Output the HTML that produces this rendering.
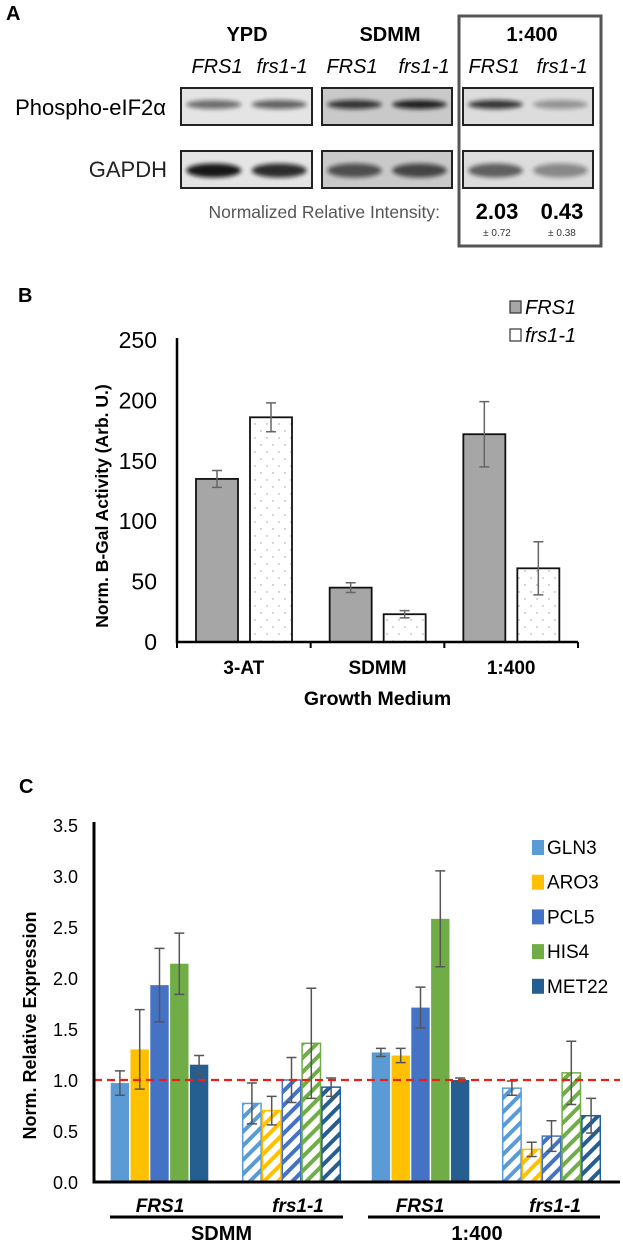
<!DOCTYPE html>
<html><head><meta charset="utf-8"><style>
body{margin:0;background:#fff;}
svg{display:block;font-family:"Liberation Sans",Arial,sans-serif;}
</style></head><body>
<svg id="fig" width="623" height="1248" viewBox="0 0 623 1248" xmlns="http://www.w3.org/2000/svg">
<defs>
<filter id="blur" x="-20%" y="-50%" width="140%" height="200%"><feGaussianBlur stdDeviation="2.2"/></filter>
<pattern id="dots" width="12" height="14" patternUnits="userSpaceOnUse"><rect width="12" height="14" fill="#fff"/><circle cx="3" cy="4" r="0.7" fill="#999"/><circle cx="9" cy="11" r="0.7" fill="#999"/></pattern>
</defs>
<!-- Panel A -->
<g>
<text x="6" y="20" font-size="20" font-weight="bold">A</text>
<rect x="459" y="16" width="142" height="230" fill="none" stroke="#555" stroke-width="3"/>
<g font-size="20" font-weight="bold" text-anchor="middle">
<text x="247" y="41">YPD</text>
<text x="390" y="41">SDMM</text>
<text x="532" y="41">1:400</text>
</g>
<g font-size="20" font-style="italic" text-anchor="middle">
<text x="217" y="73">FRS1</text><text x="282" y="73">frs1-1</text>
<text x="352" y="73">FRS1</text><text x="424" y="73">frs1-1</text>
<text x="494" y="73">FRS1</text><text x="562" y="73">frs1-1</text>
</g>
<text x="166" y="115" font-size="22" text-anchor="end">Phospho-eIF2α</text>
<text x="167" y="177" font-size="22" text-anchor="end" fill="#222">GAPDH</text>
<g id="blots"></g>
<text x="440" y="218" font-size="17.5" text-anchor="end" fill="#555">Normalized Relative Intensity:</text>
<text x="497" y="219" font-size="22" font-weight="bold" text-anchor="middle">2.03</text>
<text x="562" y="219" font-size="22" font-weight="bold" text-anchor="middle">0.43</text>
<text x="497" y="236" font-size="10" text-anchor="middle" fill="#333">± 0.72</text>
<text x="562" y="236" font-size="10" text-anchor="middle" fill="#333">± 0.38</text>
</g>
<!-- Panel B -->
<g id="panelB">
<text x="18" y="302" font-size="20" font-weight="bold">B</text>
</g>
<!-- Panel C -->
<g id="panelC">
<text x="19" y="793" font-size="20" font-weight="bold">C</text>
</g>
</svg>
<script>
// ---- Panel A blots (band intensities, 0-1) ----
const blotPhospho=[0.55,0.6,0.8,0.9,0.8,0.35];
const blotGapdh=[0.95,0.85,0.65,0.7,0.6,0.4];
const NS='http://www.w3.org/2000/svg';
function mk(tag,attrs,parent){const e=document.createElementNS(NS,tag);for(const k in attrs)e.setAttribute(k,attrs[k]);parent.appendChild(e);return e;}
const blots=document.getElementById('blots');
const boxes=[[181,312],[322,452],[463,593]];
const bgs=['#e4e4e4','#c9c9c9','#dcdcdc'];
[[88,125,blotPhospho,'phospho'],[151,188,blotGapdh,'gapdh']].forEach(([y0,y1,vals,nm])=>{
  boxes.forEach(([x0,x1],b)=>{
    const r=mk('rect',{x:x0,y:y0,width:x1-x0,height:y1-y0,fill:bgs[b],stroke:'#222','stroke-width':2},blots);
    
    
    for(let l=0;l<2;l++){
      const v=vals[b*2+l];const w=(x1-x0)/2;
      const band=mk('ellipse',{cx:x0+w*(l+0.5),cy:(y0+y1)/2+(nm==='gapdh'?1:-2),rx:w*0.42,ry:nm==='gapdh'?7:4.5,fill:'#111',opacity:v,filter:'url(#blur)'},blots);
      
      
    }
  });
});

// ---- Panel B ----
const bCats=['3-AT','SDMM','1:400'];
const bFRS1=[135,45,172];
const bFRS1Err=[7,4,27];
const bFrs11=[186,23,61];
const bFrs11Err=[12,3,22];
const bTicks=[0,50,100,150,200,250];
(function(){
  const g=document.getElementById('panelB');
  const X0=177,X1=578,Y0=642,Ytop=340,ymax=250;
  const y=v=>Y0-(v/ymax)*(Y0-Ytop);
  const gw=(X1-X0)/bCats.length;
  bTicks.forEach(t=>{const tx=mk('text',{x:157,y:y(t)+8,'font-size':23,'text-anchor':'end'},g);tx.textContent=t;
    
    });
  const yt=mk('text',{x:0,y:0,'font-size':17.5,'font-weight':'bold','text-anchor':'middle',transform:`translate(108,${(Y0+Ytop)/2+15}) rotate(-90)`},g);
  yt.textContent='Norm. B-Gal Activity (Arb. U.)';
  
  
  bCats.forEach((c,i)=>{
    const gx=X0+gw*i;
    [[bFRS1,bFRS1Err,'#a6a6a6',19,'frs1'],[bFrs11,bFrs11Err,'url(#dots)',73,'frs1-1']].forEach(([vals,errs,fill,off,nm])=>{
      const v=vals[i];
      const r=mk('rect',{x:gx+off,y:y(v),width:42,height:Y0-y(v),fill:fill,stroke:'#111','stroke-width':1.8},g);
      
      
      const cx=gx+off+21,e=errs[i];
      mk('path',{d:`M${cx} ${y(v+e)}V${y(v-e)}M${cx-5} ${y(v+e)}H${cx+5}M${cx-5} ${y(v-e)}H${cx+5}`,stroke:'#666','stroke-width':1.5,fill:'none'},g);
    });
    const lt=mk('text',{x:gx+gw/2,y:674,'font-size':19,'font-weight':'bold','text-anchor':'middle'},g);
    lt.textContent=c;
    
    
  });
  mk('path',{d:`M${X0} ${Ytop-2}V${Y0}H${X1}`,stroke:'#000','stroke-width':2.5,fill:'none'},g);
  for(let i=0;i<=3;i++) mk('line',{x1:X0+gw*i,x2:X0+gw*i,y1:Y0,y2:Y0+6,stroke:'#000','stroke-width':2},g);
  const xt=mk('text',{x:(X0+X1)/2,y:705,'font-size':19.5,'font-weight':'bold','text-anchor':'middle'},g);
  xt.textContent='Growth Medium';
  
  
  [['#a6a6a6','FRS1',307],['#fff','frs1-1',335]].forEach(([f,t,yy])=>{
    const s=mk('rect',{x:510,y:yy-6,width:11,height:12,fill:f,stroke:'#333','stroke-width':1.2},g);
    
    
    const tx=mk('text',{x:525,y:yy+7,'font-size':20,'font-style':'italic'},g);tx.textContent=t;
    
    
  });
})();

// ---- Panel C ----
const cGenes=['GLN3','ARO3','PCL5','HIS4','MET22'];
const cGroups=['FRS1','frs1-1','FRS1','frs1-1'];
const cFRS1SDMM=[0.97,1.30,1.93,2.14,1.15];
const cFRS1SDMMErr=[0.12,0.39,0.36,0.30,0.09];
const cFrsSDMM=[0.77,0.70,1.00,1.36,0.93];
const cFrsSDMMErr=[0.20,0.14,0.22,0.54,0.09];
const cFRS1Ratio=[1.27,1.24,1.71,2.58,1.00];
const cFRS1RatioErr=[0.04,0.07,0.20,0.47,0.02];
const cFrsRatio=[0.92,0.32,0.45,1.07,0.65];
const cFrsRatioErr=[0.07,0.07,0.15,0.31,0.17];
const cTicks=[0,0.5,1,1.5,2,2.5,3,3.5];
const cColors=['#5b9bd5','#ffc000','#4472c4','#70ad47','#255e91'];
(function(){
  const svg=document.getElementById('fig');
  const defs=svg.querySelector('defs');
  cColors.forEach((c,i)=>{
    const p=mk('pattern',{id:'hatch'+i,width:10,height:10,patternUnits:'userSpaceOnUse',patternTransform:'rotate(45)'},defs);
    mk('rect',{width:10,height:10,fill:'#fff'},p);
    mk('rect',{x:0,y:0,width:4,height:10,fill:c},p);
  });
  const g=document.getElementById('panelC');
  const X0=94,X1=620,Y0=1182,Ytop=825,ymax=3.5;
  const y=v=>Y0-(v/ymax)*(Y0-Ytop);
  cTicks.forEach(t=>{const tx=mk('text',{x:78,y:y(t)+7,'font-size':18,'text-anchor':'end'},g);tx.textContent=t.toFixed(1);
    
    });
  const yt=mk('text',{x:0,y:0,'font-size':18,'font-weight':'bold','text-anchor':'middle',transform:`translate(36,${(Y0+Ytop)/2+22}) rotate(-90)`},g);
  yt.textContent='Norm. Relative Expression';
  
  
  const series=[[cFRS1SDMM,cFRS1SDMMErr,false],[cFrsSDMM,cFrsSDMMErr,true],[cFRS1Ratio,cFRS1RatioErr,false],[cFrsRatio,cFrsRatioErr,true]];
  const starts=[110,242,371,502];const bw=19.8;
  const labelX=[160,298,420,555];
  series.forEach(([vals,errs,hatch],gi)=>{
    vals.forEach((v,k)=>{
      const bx=starts[gi]+k*bw;
      const r=mk('rect',{x:bx+0.7,y:y(v),width:bw-1.4,height:Y0-y(v),fill:hatch?'url(#hatch'+k+')':cColors[k],stroke:cColors[k],'stroke-width':hatch?1.5:0},g);
      
      
      const cx=bx+bw/2,e=errs[k];
      mk('path',{d:`M${cx} ${y(v+e)}V${y(v-e)}M${cx-5} ${y(v+e)}H${cx+5}M${cx-5} ${y(v-e)}H${cx+5}`,stroke:'#555','stroke-width':1.5,fill:'none'},g);
    });
    const lt=mk('text',{x:labelX[gi],y:1212,'font-size':19,'font-weight':'bold','font-style':'italic','text-anchor':'middle'},g);
    lt.textContent=cGroups[gi];
    
    
  });
  const rl=mk('line',{x1:X0,x2:X1,y1:y(1),y2:y(1),stroke:'#e8211b','stroke-width':2.2,'stroke-dasharray':'8,5'},g);
  
  
  mk('path',{d:`M${X0} ${Ytop-3}V${Y0}H${X1}`,stroke:'#000','stroke-width':3,fill:'none'},g);
  [[110,343,'SDMM'],[368,600,'1:400']].forEach(([a,b,t])=>{
    mk('line',{x1:a,x2:b,y1:1217,y2:1217,stroke:'#000','stroke-width':3},g);
    const tx=mk('text',{x:(a+b)/2-(t==='SDMM'?5:7),y:1240,'font-size':20,'font-weight':'bold','text-anchor':'middle'},g);tx.textContent=t;
    
    
  });
  cGenes.forEach((gn,k)=>{
    const yy=847+k*34.7;
    const s=mk('rect',{x:532,y:yy-7,width:12,height:15,fill:cColors[k]},g);
    
    
    const tx=mk('text',{x:547,y:yy+7,'font-size':19},g);tx.textContent=gn;
    
    
  });
})();
</script>
</body></html>
